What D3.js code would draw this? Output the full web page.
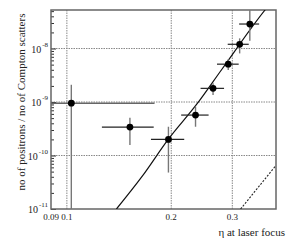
<!DOCTYPE html>
<html>
<head>
<meta charset="utf-8">
<script src="https://cdn.jsdelivr.net/npm/d3@7"></script>
<style>
  body { margin: 0; background: #fff; }
  svg text { font-family: "Liberation Serif", "DejaVu Serif", serif; fill: #222; }
</style>
</head>
<body>
<div id="chart"></div>
<script>
(function(){

    // measured points: eta, ratio, and error bar ends
    var eta    = [0.103, 0.152, 0.1963, 0.235, 0.264, 0.292, 0.315, 0.337];
    var ratio  = [9.5e-10, 3.4e-10, 2.0e-10, 5.7e-10, 1.8e-9, 5.1e-9, 1.2e-8, 2.87e-8];
    var etaLo  = [0.085, 0.1262, 0.1748, 0.2136, 0.243, 0.271, 0.291, 0.3139];
    var etaHi  = [0.179, 0.178, 0.218, 0.2563, 0.284, 0.313, 0.3346, 0.3585];
    var ratioLo = [5e-12, 1.57e-10, 4.8e-11, 3.45e-10, 1.35e-9, 3.96e-9, 8.1e-9, 1.4e-8];
    var ratioHi = [2.1e-9, 5.1e-10, 3.45e-10, 8.2e-10, 2.24e-9, 6.3e-9, 1.55e-8, 5.4e-8];

    // theory curve (solid) and the dotted curve at lower right
    var curveEta   = [0.139, 0.165, 0.196, 0.236, 0.28, 0.3724, 0.39];
    var curveRatio = [1.0e-11, 4.1e-11, 2.0e-10, 8.8e-10, 4.1e-9, 5.2e-8, 7.5e-8];
    var dotEta   = [0.317, 0.40];
    var dotRatio = [1.0e-11, 6.4e-11];

    var xTicks = [0.09, 0.1, 0.2, 0.3];
    var xTickLabels = ["0.09", "0.1", "0.2", "0.3"];
    var yTicks = [1e-11, 1e-10, 1e-9, 1e-8];
    var yTickExp = ["-11", "-10", "-9", "-8"];
    var xGrid = [0.1, 0.2, 0.3];
    var yGrid = [1e-10, 1e-9, 1e-8];

    var width = 291, height = 243;
    var margin = {top: 10, right: 15, bottom: 34, left: 51};
    var w = width - margin.left - margin.right,
        h = height - margin.top - margin.bottom;

    var svg = d3.select("#chart").append("svg")
        .attr("width", width)
        .attr("height", height);

    var g = svg.append("g")
        .attr("transform", "translate(" + margin.left + "," + margin.top + ")");

    var x = d3.scaleLog().domain([0.09, 0.401]).range([0, w]);
    var y = d3.scaleLog().domain([1e-11, 5.25e-8]).range([h, 0]);

    g.append("clipPath").attr("id", "clip")
        .append("rect").attr("width", w).attr("height", h);

    //grid lines
    g.selectAll(".xgrid").data(xGrid).enter().append("line")
        .attr("x1", function(d){ return x(d); })
        .attr("x2", function(d){ return x(d); })
        .attr("y1", 0).attr("y2", h)
        .attr("stroke", "#888").attr("stroke-width", 1)
        .attr("stroke-dasharray", "1.5,1");
    g.selectAll(".ygrid").data(yGrid).enter().append("line")
        .attr("y1", function(d){ return y(d); })
        .attr("y2", function(d){ return y(d); })
        .attr("x1", 0).attr("x2", w)
        .attr("stroke", "#888").attr("stroke-width", 1)
        .attr("stroke-dasharray", "1.5,1");

    // y axis minor/major ticks pointing inward
    var minor = y.ticks().filter(function(d){ return yTicks.indexOf(d) < 0; });
    var yAxisMinor = d3.axisRight(y).tickValues(minor).tickSize(3).tickFormat("");
    var yAxisMajor = d3.axisRight(y).tickValues(yTicks).tickSize(5).tickFormat("");
    [yAxisMinor, yAxisMajor].forEach(function(ax){
        var a = g.append("g").call(ax);
        a.select(".domain").remove();
        a.selectAll("line").attr("stroke", "#333");
    });

    // y tick labels 10^n
    var yl = g.selectAll(".ylab").data(yTicks).enter().append("text")
        .attr("x", -3)
        .attr("y", function(d){ return y(d) + 4; })
        .attr("text-anchor", "end")
        .attr("font-size", 10);
    yl.append("tspan").text("10");
    yl.append("tspan").attr("dy", -6).attr("dx", 1).attr("font-size", 7)
        .text(function(d, i){ return yTickExp[i]; });

    // x tick labels
    g.selectAll(".xlab").data(xTicks).enter().append("text")
        .attr("x", function(d){ return x(d); })
        .attr("y", h + 11)
        .attr("text-anchor", "middle")
        .attr("font-size", 9)
        .text(function(d, i){ return xTickLabels[i]; });

    // frame
    g.append("rect").attr("width", w).attr("height", h)
        .attr("fill", "none").attr("stroke", "#666").attr("stroke-width", 1.5);

    var plot = g.append("g").attr("clip-path", "url(#clip)");

    var line = d3.line()
        .x(function(d){ return x(d[0]); })
        .y(function(d){ return y(d[1]); });

    plot.append("path")
        .datum(d3.zip(curveEta, curveRatio))
        .attr("d", line.curve(d3.curveMonotoneX))
        .attr("fill", "none").attr("stroke", "#111").attr("stroke-width", 1.2);

    plot.append("path")
        .datum(d3.zip(dotEta, dotRatio))
        .attr("d", d3.line().x(function(d){ return x(d[0]); }).y(function(d){ return y(d[1]); }))
        .attr("fill", "none").attr("stroke", "#222").attr("stroke-width", 1.1)
        .attr("stroke-dasharray", "2,1.5");

    // error bars
    var pts = eta.map(function(d, i){
        return {x: d, y: ratio[i], xlo: etaLo[i], xhi: etaHi[i], ylo: ratioLo[i], yhi: ratioHi[i], i: i};
    });

    plot.selectAll(".ex").data(pts).enter().append("line")
        .attr("x1", function(d){ return x(d.xlo); })
        .attr("x2", function(d){ return x(d.xhi); })
        .attr("y1", function(d){ return y(d.y); })
        .attr("y2", function(d){ return y(d.y); })
        .attr("stroke", function(d){ return d.i === 0 ? "#666" : "#222"; })
        .attr("stroke-width", function(d){ return d.i === 0 ? 1.6 : 1.2; });

    plot.selectAll(".ey").data(pts).enter().append("line")
        .attr("x1", function(d){ return x(d.x); })
        .attr("x2", function(d){ return x(d.x); })
        .attr("y1", function(d){ return y(d.ylo); })
        .attr("y2", function(d){ return y(d.yhi); })
        .attr("stroke", "#777").attr("stroke-width", 1.4);

    plot.selectAll(".pt").data(pts).enter().append("circle")
        .attr("cx", function(d){ return x(d.x); })
        .attr("cy", function(d){ return y(d.y); })
        .attr("r", 3.4)
        .attr("fill", "#000");

    // axis titles
    svg.append("text")
        .attr("transform", "translate(25," + (margin.top + 92) + ") rotate(-90)")
        .attr("text-anchor", "middle")
        .attr("font-size", 11)
        .text("no of positrons / no of Compton scatters");

    svg.append("text")
        .attr("x", 285)
        .attr("y", 236)
        .attr("text-anchor", "end")
        .attr("font-size", 11)
        .text("η at laser focus");

})();
</script>
</body>
</html>
